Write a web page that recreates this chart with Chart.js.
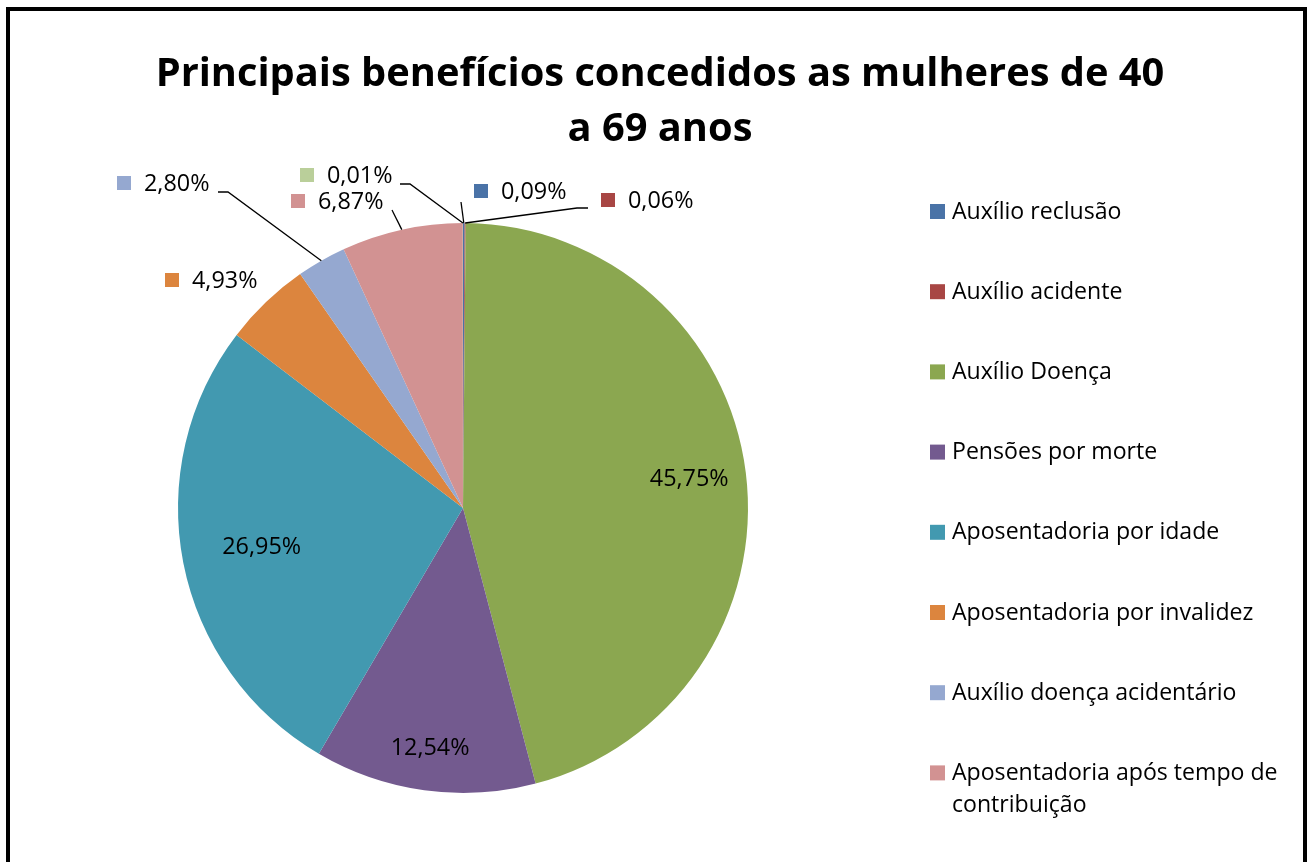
<!DOCTYPE html>
<html>
<head>
<meta charset="utf-8">
<script src="https://cdn.jsdelivr.net/npm/chart.js@4"></script>
<style>
  html, body { margin: 0; padding: 0; background: #fff; }
  #wrap { width: 1314px; height: 862px; }
</style>
</head>
<body>
<div id="wrap"><canvas id="chart" width="1314" height="862"></canvas></div>
<script>
// dados
const labels = [
    'Auxílio reclusão', 'Auxílio acidente', 'Auxílio Doença', 'Pensões por morte',
    'Aposentadoria por idade', 'Aposentadoria por invalidez',
    'Auxílio doença acidentário', 'Aposentadoria após tempo de contribuição', ''
];
const values = [0.09, 0.06, 45.75, 12.54, 26.95, 4.93, 2.80, 6.87, 0.01];
const colors = ['#4A73A7', '#A84644', '#8BA750', '#735A8F', '#4299B0',
                '#DC853E', '#95A8D0', '#D29292', '#BACF9A'];
const legendCount = 8;

const titleLines = ['Principais benefícios concedidos as mulheres de 40', 'a 69 anos'];

// posição dos rótulos (layout)
const inside = { 2: 0.8, 3: 0.85, 4: 0.72 };
const outside = {
    0: { key: 474, text: 501, y: 191, path: [[461, 202]] },
    1: { key: 601, text: 628, y: 200, path: [[577, 208], [588, 208]] },
    5: { key: 165, text: 192, y: 280, path: null },
    6: { key: 117, text: 144, y: 183, path: [[228, 192], [218, 192]] },
    7: { key: 291, text: 318, y: 201, path: [[392, 210]] },
    8: { key: 300, text: 327, y: 175, path: [[410, 184], [400, 184]] }
};

const fmt = v => v.toFixed(2).replace('.', ',') + '%';
const FONT = '"Open Sans", "Noto Sans", sans-serif';

function fitFont(ctx, text, width, weight) {
    let size = 40;
    ctx.font = weight + ' ' + size + 'px ' + FONT;
    size = size * width / ctx.measureText(text).width;
    return weight + ' ' + size.toFixed(1) + 'px ' + FONT;
}

const decor = {
    id: 'decor',
    afterDraw(chart) {
        const ctx = chart.ctx;
        const meta = chart.getDatasetMeta(0);
        ctx.save();

        // moldura
        ctx.strokeStyle = '#000';
        ctx.lineWidth = 4;
        ctx.strokeRect(8, 9, 1297, 900);

        // título
        ctx.fillStyle = '#000';
        ctx.textAlign = 'center';
        ctx.textBaseline = 'alphabetic';
        ctx.font = fitFont(ctx, titleLines[0], 1010, 'bold');
        ctx.fillText(titleLines[0], 660, 86);
        ctx.fillText(titleLines[1], 660, 141);

        // rótulos internos
        ctx.font = fitFont(ctx, '45,75%', 79, 'normal');
        const labelFont = ctx.font;
        ctx.textBaseline = 'middle';
        Object.keys(inside).forEach(i => {
            const arc = meta.data[i];
            const mid = (arc.startAngle + arc.endAngle) / 2;
            const r = arc.outerRadius * inside[i];
            ctx.fillText(fmt(values[i]), arc.x + Math.cos(mid) * r, arc.y + Math.sin(mid) * r);
        });

        // rótulos externos com linhas de chamada
        ctx.textAlign = 'left';
        Object.keys(outside).forEach(i => {
            const o = outside[i];
            const arc = meta.data[i];
            const mid = (arc.startAngle + arc.endAngle) / 2;
            if (o.path) {
                ctx.beginPath();
                ctx.lineWidth = 1.3;
                ctx.strokeStyle = '#000';
                ctx.moveTo(arc.x + Math.cos(mid) * arc.outerRadius, arc.y + Math.sin(mid) * arc.outerRadius);
                o.path.forEach(p => ctx.lineTo(p[0], p[1]));
                ctx.stroke();
            }
            ctx.fillStyle = colors[i];
            ctx.fillRect(o.key, o.y - 7, 14, 14);
            ctx.fillStyle = '#000';
            ctx.fillText(fmt(values[i]), o.text, o.y + 1);
        });

        // legenda
        ctx.font = fitFont(ctx, 'Aposentadoria por invalidez', 301, 'normal');
        for (let i = 0; i < legendCount; i++) {
            const y = 211 + i * 80.2;
            ctx.fillStyle = colors[i];
            ctx.fillRect(930, y - 7, 15, 15);
            ctx.fillStyle = '#000';
            if (i === 7) {
                ctx.fillText('Aposentadoria após tempo de', 952, y + 1);
                ctx.fillText('contribuição', 952, y + 33);
            } else {
                ctx.fillText(labels[i], 952, y + 1);
            }
        }
        ctx.restore();
    }
};

new Chart(document.getElementById('chart'), {
    type: 'pie',
    data: {
        labels: labels,
        datasets: [{
            data: values,
            backgroundColor: colors,
            borderWidth: 0
        }]
    },
    options: {
        responsive: false,
        animation: false,
        layout: { padding: { left: 178, right: 566, top: 223, bottom: 69 } },
        plugins: {
            legend: { display: false },
            tooltip: { enabled: false }
        }
    },
    plugins: [decor]
});
</script>
</body>
</html>
